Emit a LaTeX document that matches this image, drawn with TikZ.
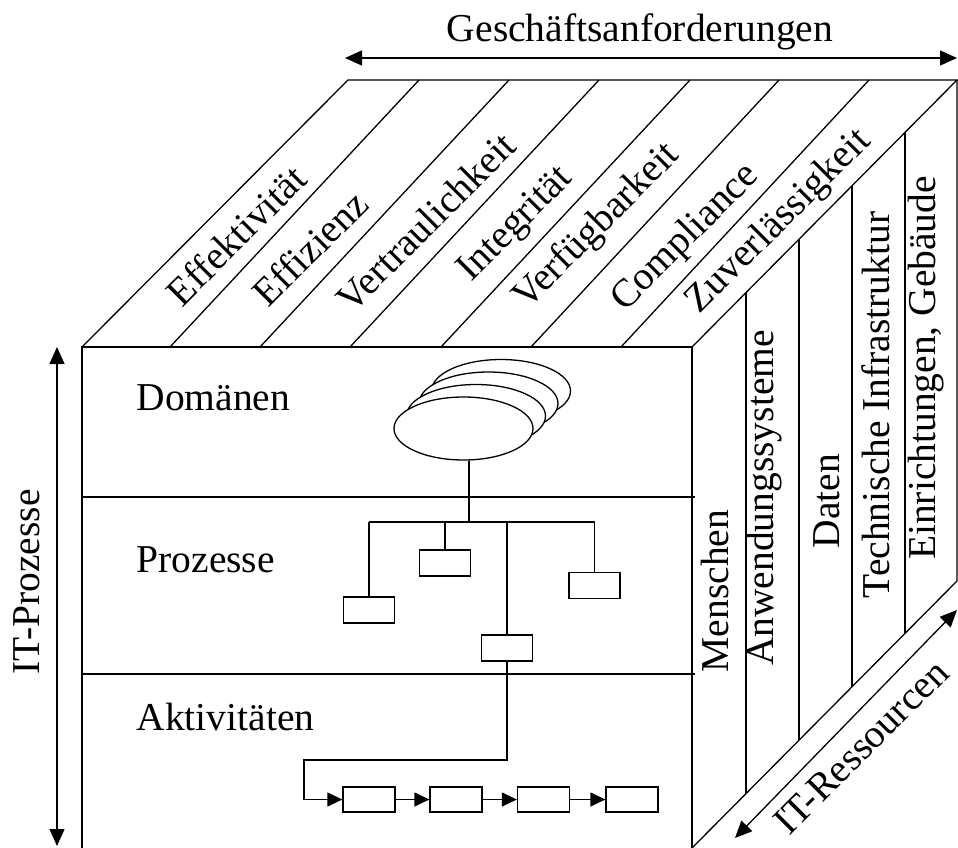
\documentclass[tikz,border=0pt]{standalone}
\usepackage{fontspec}
\setmainfont{Liberation Serif}
\usetikzlibrary{arrows.meta,shapes.geometric,calc}
\begin{document}
\begin{tikzpicture}[x=1pt,y=-1pt,line width=1.3pt,
  lbl/.style={font=\fontsize{39.5}{46}\selectfont,inner sep=0pt},
  toplbl/.style={lbl,rotate=45},
  sidelbl/.style={lbl,rotate=90},
  pbox/.style={draw,fill=white,minimum width=51pt,minimum height=26pt,inner sep=0pt},
  abox/.style={draw,fill=white,minimum width=52pt,minimum height=25pt,inner sep=0pt},
  dome/.style={draw,ellipse,fill=white,minimum width=139pt,minimum height=63pt,inner sep=0pt},
  dbl/.style={>={Triangle[length=17pt,width=15pt]},<->},
  ctip/.style={-{Triangle[length=15pt,width=14pt]}}
]
\useasboundingbox (0,0) rectangle (958,848);

% cube corners
\coordinate (FTL) at (82,347);
\coordinate (FTR) at (692,347);
\coordinate (FBL) at (82,848);
\coordinate (FBR) at (692,848);
\coordinate (BTL) at (348,80);
\coordinate (BTR) at (957,80);
\coordinate (BBR) at (957,581);

\draw (FBL) -- (FTL) -- (FTR) -- (FBR);
\draw (FTL) -- (BTL) -- (BTR) -- (FTR);
\draw (BTR) -- (BBR) -- (FBR);

% front dividers
\draw (82,497) -- (695,497);
\draw (82,674) -- (695,674);

% top face strips
\draw (170,347) -- (419,80);
\draw (260,347) -- (509,80);
\draw (350,347) -- (599,80);
\draw (441,347) -- (690,80);
\draw (531,347) -- (779,80);
\draw (621,347) -- (869,80);

% right face strips
\draw (746,293) -- (746,794);
\draw (799,239) -- (799,740);
\draw (852,186) -- (852,687);
\draw (905,132) -- (905,633);

% top labels
\node[toplbl] (t1) at (236,235) {Effektivität};
\node[toplbl] (t2) at (310,248) {Effizienz};
\node[toplbl] (t3) at (426,222) {Vertraulichkeit};
\node[toplbl] (t4) at (516,225) {Integrität};
\node[toplbl] (t5) at (597,227) {Verfügbarkeit};
\node[toplbl] (t6) at (686,238) {Compliance};
\node[toplbl] (t7) at (779,222) {Zuverlässigkeit};

% right labels
\node[sidelbl] (r1) at (715,591) {Menschen};
\node[sidelbl] (r2) at (764,498) {Anwendungssysteme};
\node[sidelbl] (r3) at (827,501) {Daten};
\node[sidelbl] (r4) at (876,405) {Technische Infrastruktur};
\node[sidelbl] (r5) at (926,368) {Einrichtungen, Gebäude};

% front labels
\node[lbl,anchor=base west] (f1) at (136,410) {Domänen};
\node[lbl,anchor=base west] (f2) at (136,572) {Prozesse};
\node[lbl,anchor=base west] (f3) at (136,730) {Aktivitäten};

% axis arrows
\coordinate (ga1) at (345,58);
\coordinate (ga2) at (957,58);
\draw[dbl] (ga1) -- (ga2);
\node[lbl,anchor=base] (ga) at (640,42) {Geschäftsanforderungen};

\coordinate (ip1) at (57,347);
\coordinate (ip2) at (57,846);
\draw[dbl] (ip1) -- (ip2);
\node[sidelbl] (ip) at (27,582) {IT-Prozesse};

\coordinate (ir1) at (735,838);
\coordinate (ir2) at (957,610);
\draw[dbl] (ir1) -- (ir2);
\node[toplbl] (ir) at (861,747) {IT-Ressourcen};

% domains (stacked ellipses)
\node[dome] (d4) at (501,391) {};
\node[dome] (d3) at (488.5,403.5) {};
\node[dome] (d2) at (476,416) {};
\node[dome] (dom) at (463.5,428.5) {};

% process tree
\coordinate (j) at (469,522);
\node[pbox] (p1) at (369,610) {};
\node[pbox] (p2) at (445,563) {};
\node[pbox] (p3) at (507,648) {};
\node[pbox] (p4) at (594.5,585.5) {};
\draw (dom.south -| j) -- (j);
\draw (p1.north |- j) -- (p4.north |- j);
\draw (p1.north |- j) -- (p1.north);
\draw (p2.north |- j) -- (p2.north);
\draw (p3.north |- j) -- (p3.north);
\draw (p4.north |- j) -- (p4.north);

% activities
\node[abox] (a1) at (369,799.5) {};
\node[abox] (a2) at (456,799.5) {};
\node[abox] (a3) at (543.5,799.5) {};
\node[abox] (a4) at (632,799.5) {};
\coordinate (k1) at (304,760);
\draw[ctip] (p3.south) |- (k1) |- (a1.west);
\draw[ctip] (a1.east) -- (a2.west);
\draw[ctip] (a2.east) -- (a3.west);
\draw[ctip] (a3.east) -- (a4.west);
\end{tikzpicture}
\end{document}
